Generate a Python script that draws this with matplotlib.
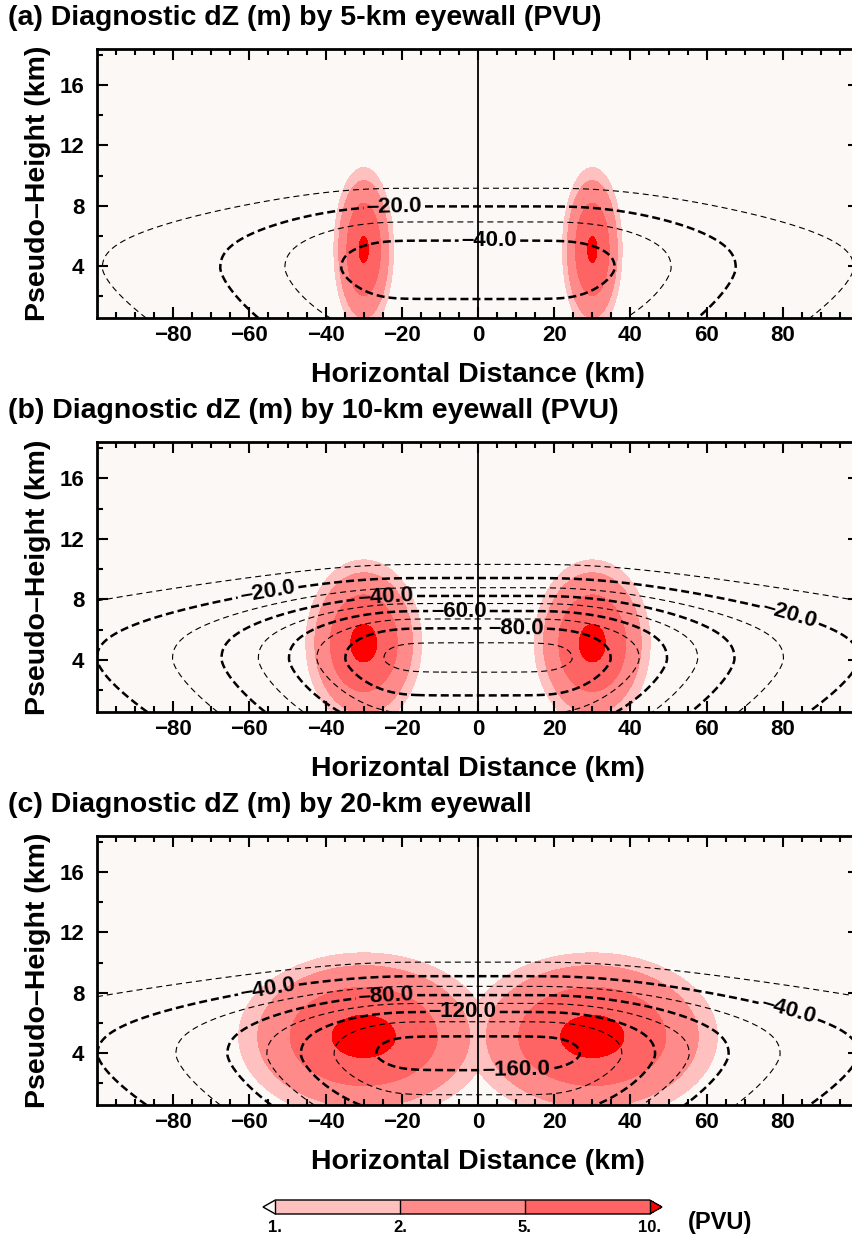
import numpy as np
import matplotlib
matplotlib.use("Agg")
import matplotlib.pyplot as plt
from matplotlib.colors import ListedColormap, BoundaryNorm
from matplotlib.cm import ScalarMappable

plt.rcParams["font.family"] = ["Liberation Sans", "DejaVu Sans"]
plt.rcParams["font.weight"] = "bold"

W, H = 852, 1238

titles = ["(a) Diagnostic dZ (m) by 5-km eyewall (PVU)",
          "(b) Diagnostic dZ (m) by 10-km eyewall (PVU)",
          "(c) Diagnostic dZ (m) by 20-km eyewall"]

# PV of the eyewall blobs (PVU)
pv_peak = [10.6, 11.3, 11.7]
pv_xc = [30.0, 30.0, 30.0]
pv_zc = [5.1, 5.1, 5.1]
pv_sx = [3.6, 6.9, 14.8]
pv_sz = [2.5, 2.5, 2.5]

# diagnosed dZ (m)
dz_peak = [-45.0, -93.0, -167.0]
dz_zc = [3.85, 4.05, 3.9]
dz_flat = [22.0, 18.0, 18.0]
dz_scale = [41.0, 43.0, 46.0]
dz_up = [4.48, 4.48, 4.48]
dz_low = [8.5, 8.5, 8.5]

thin_levels = [[-50, -30, -10],
               [-90, -70, -50, -30, -10],
               [-140, -100, -60, -20]]
thick_levels = [[-40, -20],
                [-80, -60, -40, -20],
                [-160, -120, -80, -40]]
label_pos = [[(-22, 8.0), (3, 5.9)],
             [(-55, 8.3), (82, 7.2), (-24, 7.8), (-5, 6.85), (10, 5.7)],
             [(-55, 8.2), (82, 7.3), (-24, 7.5), (-4, 6.4), (10, 2.7)]]

pv_levels = [1, 2, 5, 10]
pv_colors = ["#ffc0c0", "#ff8a8a", "#ff6464"]
pv_under = "#fcf8f5"
pv_over = "#ff0000"

xticks = [-80, -60, -40, -20, 0, 20, 40, 60, 80]
yticks = [4, 8, 12, 16]

# panel boxes in pixels (top, bottom)
boxes = [(49, 318), (442, 712), (836, 1105)]
left_px, right_px = 97, 859

x = np.linspace(-100, 100, 801)
z = np.linspace(0.55, 18.4, 400)
X, Z = np.meshgrid(x, z)

cmap = ListedColormap(pv_colors)
cmap.set_under(pv_under)
cmap.set_over(pv_over)
norm = BoundaryNorm(pv_levels, cmap.N)

thin_ls = (0, (5.4, 3.6))
thick_ls = (0, (3.2, 1.6))


def dash_fmt(v):
    return f"{v:.1f}".replace("-", "\u2013")


fig = plt.figure(figsize=(W / 100, H / 100), dpi=100)

for i in range(3):
    top, bot = boxes[i]
    ax = fig.add_axes([left_px / W, 1 - bot / H, (right_px - left_px) / W, (bot - top) / H])
    ax.set_facecolor(pv_under)

    # PV shading: two eyewall blobs, larger one wins
    pv = np.zeros_like(X)
    for sgn in (-1, 1):
        blob = pv_peak[i] * np.exp(-((X - sgn * pv_xc[i]) ** 2) / (2 * pv_sx[i] ** 2)
                                   - ((Z - pv_zc[i]) ** 2) / (2 * pv_sz[i] ** 2))
        pv = np.maximum(pv, blob)
    ax.contourf(X, Z, pv, levels=pv_levels, cmap=cmap, norm=norm, extend="both")

    # dZ field
    u = np.abs(X) - dz_flat[i]
    u = 0.5 * (u + np.sqrt(u ** 2 + 36.0))
    fx = 1.0 / (1.0 + (u / dz_scale[i]) ** 2)
    dzz = Z - dz_zc[i]
    gz = np.where(dzz > 0, np.exp(-(np.abs(dzz) / dz_up[i]) ** 2.4),
                  np.exp(-(np.abs(dzz) / dz_low[i]) ** 1.5))
    dz = dz_peak[i] * fx * gz

    cs1 = ax.contour(X, Z, dz, levels=thin_levels[i], colors="k", linewidths=0.8)
    cs1.set_linestyle(thin_ls)
    cs2 = ax.contour(X, Z, dz, levels=thick_levels[i], colors="k", linewidths=1.8)
    cs2.set_linestyle(thick_ls)
    ax.clabel(cs2, fmt=dash_fmt, fontsize=16, inline=True, inline_spacing=3,
              manual=label_pos[i])

    ax.axvline(0, color="k", lw=1.3)

    ax.set_xlim(-100, 100)
    ax.set_ylim(0.55, 18.4)
    ax.set_xticks(xticks)
    ax.set_xticks(np.arange(-95, 100, 5), minor=True)
    ax.set_yticks(yticks)
    ax.set_yticks(np.arange(2, 19, 2), minor=True)
    ax.tick_params(which="both", direction="in", top=True, right=True, width=1.5,
                   labelsize=16)
    ax.tick_params(which="major", length=8)
    ax.tick_params(which="minor", length=4)
    ax.tick_params(axis="x", which="major", pad=5)
    ax.tick_params(axis="y", which="major", pad=9)
    for sp in ax.spines.values():
        sp.set_linewidth(2)

    fig.text(8 / W, 1 - (top - 31) / H, titles[i], fontsize=20.5, ha="left", va="center")
    fig.text(478 / W, 1 - (bot + 57) / H, "Horizontal Distance (km)", fontsize=20.5,
             ha="center", va="center")
    fig.text(38 / W, 1 - ((top + bot) / 2) / H, "Pseudo\u2013Height (km)", fontsize=20.5,
             ha="center", va="center", rotation=90)

# colorbar
cax = fig.add_axes([263 / W, 1 - 1214 / H, 399 / W, 14 / H])
sm = ScalarMappable(norm=norm, cmap=cmap)
cb = fig.colorbar(sm, cax=cax, orientation="horizontal", extend="both",
                  extendfrac=0.033, spacing="uniform", drawedges=True, ticks=pv_levels)
cb.ax.set_xticklabels(["1.", "2.", "5.", "10."])
cb.ax.tick_params(length=0, labelsize=12, pad=4)
cb.outline.set_linewidth(1)
cb.dividers.set_linewidth(1)
fig.text(688 / W, 1 - 1222 / H, "(PVU)", fontsize=17, ha="left", va="center")

fig.savefig("out.png", dpi=100)
